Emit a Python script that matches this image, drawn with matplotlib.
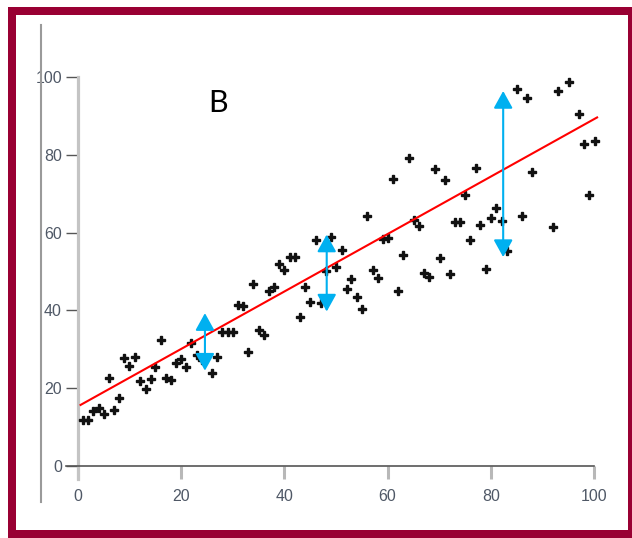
import matplotlib
matplotlib.use('Agg')
import matplotlib.pyplot as plt
from matplotlib.patches import Rectangle
from matplotlib.lines import Line2D

# ---- data ----
pts_x = [0.9, 2, 3, 4, 5, 6, 7, 8, 8.9, 9.9, 11, 12, 13.1, 14.1, 15, 16, 17, 18,
         19, 19.9, 20.9, 21.9, 23, 24, 25.9, 26.9, 28, 29, 30, 31, 32, 33, 34,
         35, 36.1, 37, 38, 39, 40, 41, 42, 43, 44, 45, 46.1, 47.1, 48.1, 49.1,
         50, 51.1, 52.1, 53, 54, 55, 56, 57.1, 58.1, 59.1, 60.1, 61.1, 62.1,
         63, 64.1, 65.1, 66, 67, 68, 69.1, 70.1, 71.1, 72, 73.1, 74, 75, 76,
         77.1, 78, 79, 80, 81, 82.1, 83.2, 85, 86.1, 87, 88, 92.1, 93.1, 95.1,
         97.1, 98.1, 99.1, 100.2]
pts_y = [11.9, 11.9, 14.2, 14.8, 13.3, 22.7, 14.3, 17.4, 27.8, 25.7, 28.1, 21.9,
         19.9, 22.3, 25.4, 32.4, 22.7, 22.0, 26.5, 27.5, 25.4, 31.7, 28.5, 27.2,
         23.8, 27.9, 34.5, 34.5, 34.5, 41.3, 41.1, 29.2, 46.9, 34.9, 33.6, 45.0,
         45.9, 52.0, 50.3, 53.8, 53.8, 38.2, 45.9, 42.2, 58.0, 41.8, 50.2, 58.8,
         51.2, 55.5, 45.5, 48.0, 43.5, 40.3, 64.3, 50.4, 48.2, 58.3, 58.7, 73.9,
         45.0, 54.2, 79.2, 63.3, 61.7, 49.7, 48.7, 76.4, 53.4, 73.6, 49.4, 62.8,
         62.8, 69.7, 58.0, 76.7, 61.9, 50.7, 63.8, 66.2, 63.1, 55.2, 97.0, 64.2,
         94.6, 75.6, 61.4, 96.4, 98.8, 90.4, 82.7, 69.7, 83.6]

fit_x = [0.5, 100.6]
fit_y = [15.7, 89.6]

# residual arrows: x, top, bottom
arrow_x = [24.6, 48.2, 82.4]
arrow_top = [39.3, 59.5, 96.4]
arrow_bot = [24.5, 39.7, 53.7]

ticks = [0, 20, 40, 60, 80, 100]

W, H = 632, 538
fig = plt.figure(figsize=(W / 100, H / 100), dpi=100)
fig.patch.set_facecolor('white')
ax = fig.add_axes([52.2 / W, (H - 485.45) / H, (619.8 - 52.2) / W, (485.45 - 30.3) / H])
ax.set_xlim(-5, 105)
ax.set_ylim(-5, 112)
ax.set_facecolor('none')

# ---- axes look ----
for s in ['top', 'right']:
    ax.spines[s].set_visible(False)
ax.spines['left'].set_position(('data', 0))
ax.spines['left'].set_bounds(-3.3, 100)
ax.spines['left'].set_color('#c4c4c4')
ax.spines['left'].set_linewidth(2.3)
ax.spines['bottom'].set_position(('data', 0))
ax.spines['bottom'].set_bounds(-2.3, 100)
ax.spines['bottom'].set_color('#555555')
ax.spines['bottom'].set_linewidth(1.2)

ax.set_xticks(ticks)
ax.set_yticks(ticks)
ax.tick_params(axis='y', direction='out', length=8.6, width=1.0, color='#555555',
               pad=3, labelsize=11.5, labelcolor='#4f5866')
ax.tick_params(axis='x', direction='out', length=9.4, width=2.2, color='#b8b8b8',
               pad=7, labelsize=11.5, labelcolor='#4f5866')
for lab in ax.get_xticklabels() + ax.get_yticklabels():
    lab.set_family('Liberation Sans')

# ---- data ----
ax.plot(pts_x, pts_y, linestyle='none', marker='P', markersize=5.3,
        color='#111111', clip_on=False, zorder=3)
ax.plot(fit_x, fit_y, color='#ff0000', linewidth=1.5, zorder=4)

for x, top, bot in zip(arrow_x, arrow_top, arrow_bot):
    ax.annotate('', xy=(x, top), xytext=(x, bot),
                arrowprops=dict(arrowstyle='<|-|>,head_length=1.05,head_width=0.58',
                                color='#00b0f0', lw=1.5, shrinkA=0, shrinkB=0,
                                mutation_scale=10),
                zorder=5)

ax.text(27.1, 93.3, 'B', fontsize=22, family=['Lato', 'DejaVu Sans'],
        ha='center', va='center', color='black')

# ---- outer decorations ----
fig.add_artist(Line2D([41 / W, 41 / W], [1 - 25 / H, 1 - 502 / H],
                      color='#9a9a9a', linewidth=1.5))
fig.add_artist(Rectangle((12 / W, 4 / H), (W - 12) / W, (534 - 11) / H,
                         fill=False, edgecolor='#990033', linewidth=5.76))

fig.savefig('out.png', dpi=100)
